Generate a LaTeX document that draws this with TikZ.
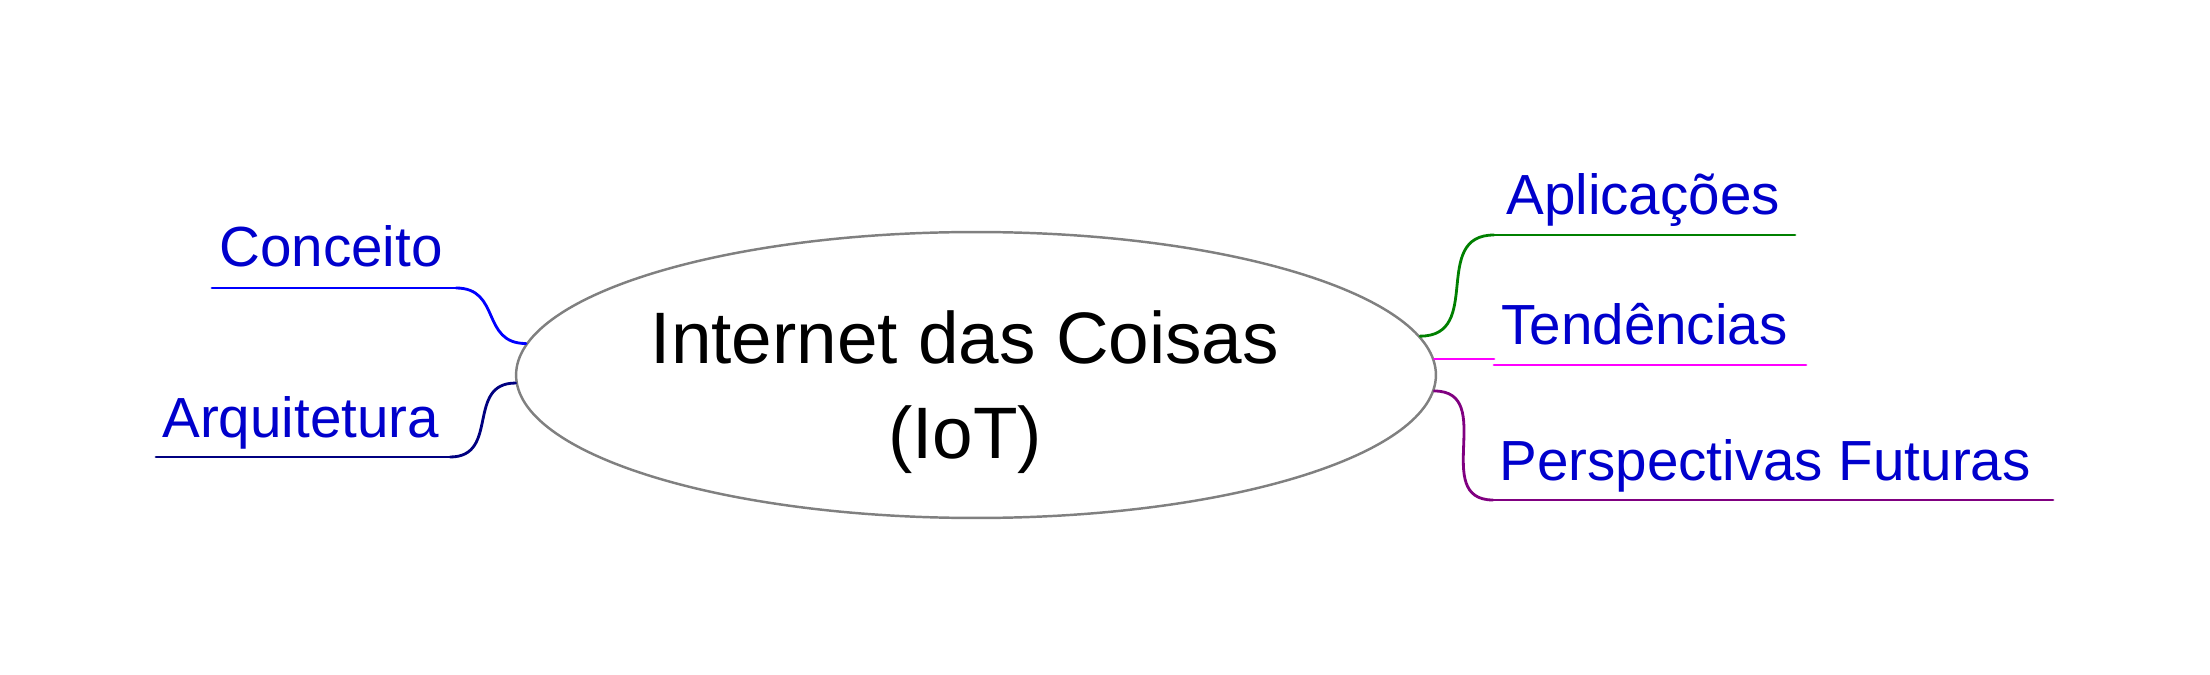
\documentclass[tikz,border=0pt]{standalone}
\usepackage{fontspec}
\setmainfont{Liberation Sans}
\usetikzlibrary{shapes.geometric}
\definecolor{labelblue}{RGB}{0,0,204}
\definecolor{blueline}{RGB}{0,0,255}
\definecolor{navyline}{RGB}{0,0,128}
\definecolor{greenline}{RGB}{0,128,0}
\definecolor{pinkline}{RGB}{255,0,255}
\definecolor{purpleline}{RGB}{128,0,128}
\definecolor{ovalgray}{RGB}{128,128,128}

\begin{document}
\begin{tikzpicture}[x=0.02cm,y=-0.02cm,line cap=round,
    branch/.style={anchor=base west,inner sep=0pt,text=labelblue,font=\fontsize{32.2}{38}\selectfont}]
    \path[use as bounding box,fill=white] (0,0) rectangle (2210,675);

    \node[ellipse,draw=ovalgray,line width=1.4pt,minimum width=18.4cm,minimum height=5.72cm,inner sep=0pt] (IoT) at (976,375) {};
    \node[align=center,inner sep=0pt,font=\fontsize{41.5}{54.1}\selectfont] (title) at (965,392) {Internet das Coisas\\(IoT)};

    \coordinate (c1a) at (456,288);  \coordinate (c1b) at (212,288);
    \coordinate (c2a) at (450,457);  \coordinate (c2b) at (156,457);
    \coordinate (c3a) at (1494,235); \coordinate (c3b) at (1795,235);
    \coordinate (c4a) at (1494,365); \coordinate (c4b) at (1806,365);
    \coordinate (c5a) at (1493,500); \coordinate (c5b) at (2053,500);

    \node[branch] (conceito)    at (219,267)  {Conceito};
    \node[branch] (arquitetura) at (162,437)  {Arquitetura};
    \node[branch] (aplicacoes)  at (1506,215) {Aplicações};
    \node[branch] (tendencias)  at (1501,345) {Tendências};
    \node[branch] (perspectivas) at (1499,480) {Perspectivas Futuras};

    \tikzset{line/.style={line width=1.6pt},curvedline/.style={line,looseness=1.3}}
    \path (IoT.176)  edge [curvedline,blueline,out=180,in=0] (c1a)
          (c1a)      edge [line,blueline] (c1b)
          (IoT.181)  edge [curvedline,navyline,out=180,in=0] (c2a)
          (c2a)      edge [line,navyline] (c2b)
          (IoT.5)    edge [curvedline,greenline,out=0,in=180] (c3a)
          (c3a)      edge [line,greenline] (c3b)
          (IoT.2)    edge [line,pinkline] (c4a |- IoT.2)
          (c4a)      edge [line,pinkline] (c4b)
          (IoT.-2)   edge [curvedline,purpleline,out=0,in=180] (c5a)
          (c5a)      edge [line,purpleline] (c5b);
\end{tikzpicture}
\end{document}
